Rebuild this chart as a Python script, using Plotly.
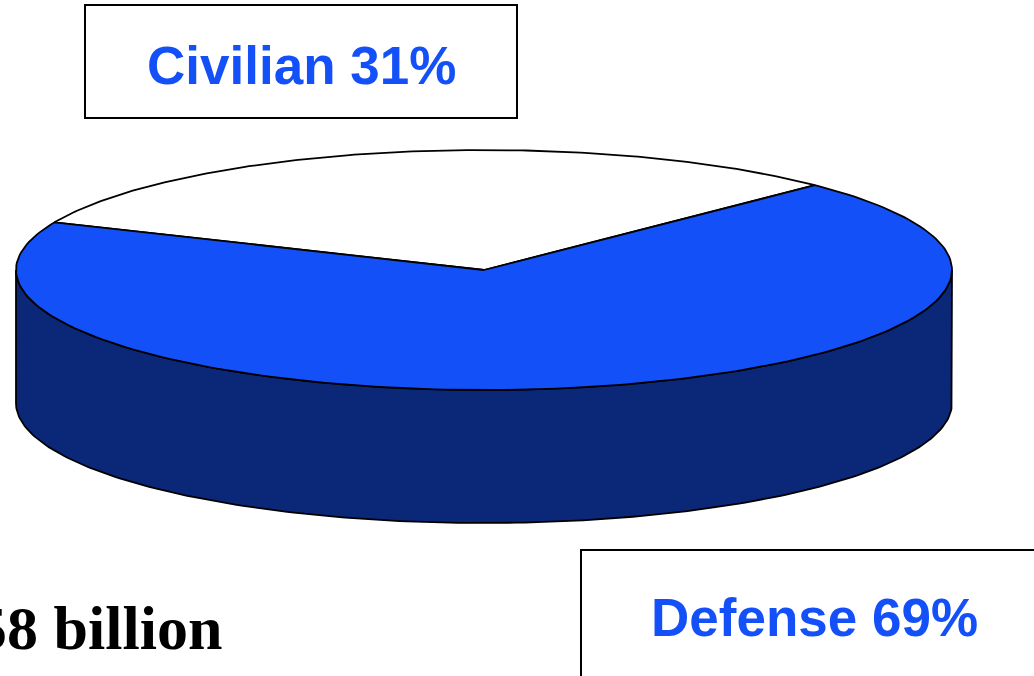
import numpy as np
import plotly.graph_objects as go

# ---- data ----
categories = ["Civilian", "Defense"]
shares = [31, 69]
labels = ["Civilian 31%", "Defense 69%"]
total_text = "$58 billion"

# ---- geometry (pixel space) ----
W, H = 1034, 676
cx, cy = 484, 270
rx, ry = 468, 120
depth = 133
start_deg = 45.0

top_colors = {"Civilian": "#FFFFFF", "Defense": "#1450F8"}
side_color = "#0A2778"
label_color = "#1450F8"


def ellipse_pts(t0, t1, dy=0, n=200):
    t = np.radians(np.linspace(t0, t1, n))
    return cx + rx * np.cos(t), cy - ry * np.sin(t) + dy


fig = go.Figure()

# front side of the cylinder
x1, y1 = ellipse_pts(180, 360)
x2, y2 = ellipse_pts(360, 180, dy=depth)
fig.add_trace(go.Scatter(
    x=np.concatenate([x1, x2, x1[:1]]), y=np.concatenate([y1, y2, y1[:1]]),
    mode="lines", fill="toself", fillcolor=side_color,
    line=dict(color="black", width=1.8), hoverinfo="skip", showlegend=False))

# top slices
total = sum(shares)
a = start_deg
for cat, s in zip(categories, shares):
    span = s / total * 360.0
    ex, ey = ellipse_pts(a, a + span)
    xs = np.concatenate([[cx], ex, [cx]])
    ys = np.concatenate([[cy], ey, [cy]])
    fig.add_trace(go.Scatter(
        x=xs, y=ys, mode="lines", fill="toself", fillcolor=top_colors[cat],
        line=dict(color="black", width=1.8), hoverinfo="skip", showlegend=False,
        name=cat))
    a += span

# label boxes
fig.add_shape(type="rect", x0=85, y0=5, x1=517, y1=118,
              line=dict(color="black", width=2), fillcolor="rgba(0,0,0,0)")
fig.add_shape(type="rect", x0=581, y0=550, x1=1040, y1=690,
              line=dict(color="black", width=2), fillcolor="rgba(0,0,0,0)")

fig.add_annotation(x=301, y=65, text=labels[0], showarrow=False,
                   font=dict(family="Liberation Sans, Arial", size=53, color=label_color, weight="bold"),
                   xanchor="center", yanchor="middle")
fig.add_annotation(x=814, y=617, text=labels[1], showarrow=False,
                   font=dict(family="Liberation Sans, Arial", size=53, color=label_color, weight="bold"),
                   xanchor="center", yanchor="middle")
fig.add_annotation(x=224, y=628, text=total_text, showarrow=False,
                   font=dict(family="Liberation Serif, Times New Roman", size=62, color="black", weight="bold"),
                   xanchor="right", yanchor="middle")

fig.update_layout(
    width=W, height=H, margin=dict(l=0, r=0, t=0, b=0),
    paper_bgcolor="white", plot_bgcolor="white",
    xaxis=dict(range=[0, W], visible=False, fixedrange=True),
    yaxis=dict(range=[H, 0], visible=False, fixedrange=True),
    showlegend=False,
)

fig.write_html("out.html", config={"displayModeBar": False},
               post_script="document.body.style.margin='0';document.body.style.overflow='hidden';")
